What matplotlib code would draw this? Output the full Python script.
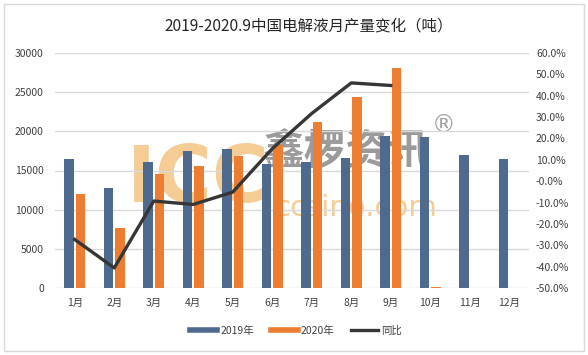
import numpy as np
import matplotlib
matplotlib.use("Agg")
import matplotlib.pyplot as plt
from matplotlib.lines import Line2D
from matplotlib.ticker import FuncFormatter
from matplotlib.patches import Rectangle
from matplotlib import font_manager

plt.rcParams['font.family'] = ['Noto Sans CJK SC', 'DejaVu Sans']

# ---------------- data ----------------
months = ['1月', '2月', '3月', '4月', '5月', '6月', '7月', '8月', '9月', '10月', '11月', '12月']
y2019 = [16500, 12800, 16100, 17500, 17700, 15800, 16100, 16600, 19400, 19300, 17000, 16500]
y2020 = [12000, 7600, 14600, 15600, 16800, 18200, 21200, 24400, 28100, 100, 0, 0]
yoy = [-27.3, -40.6, -9.3, -10.9, -5.1, 15.2, 31.7, 46.0, 44.8]   # 同比, %

c19 = '#4F6A8F'
c20 = '#ED7D31'
cline = '#363636'
ctext = '#404040'

fig = plt.figure(figsize=(5.88, 3.55), dpi=100)
ax = fig.add_axes([55/588, 1-288/355, 474/588, 235/355])
ax.set_facecolor('none')
ax2 = ax.twinx()

x = np.arange(len(months))
w = 0.24
ax.bar(x - 0.15, y2019, w, color=c19, zorder=3)
ax.bar(x + 0.15, y2020, w, color=c20, zorder=3)
ax2.plot(x[:len(yoy)], np.array(yoy) / 100, color=cline, lw=2.4, zorder=4)

ax.set_xlim(-0.5, 11.5)
ax.set_ylim(0, 30000)
ax.set_yticks(np.arange(0, 30001, 5000))
ax2.set_ylim(-0.5, 0.6)
ax2.set_yticks(np.arange(-0.5, 0.61, 0.1))
ax2.yaxis.set_major_formatter(FuncFormatter(lambda v, p: f'{v*100:.1f}%'))

ax.set_xticks(x)
ax.set_xticklabels(months)
ax.grid(axis='y', color='#D9D9D9', lw=1, zorder=0)
for a in (ax, ax2):
    for s in a.spines.values():
        s.set_visible(False)
    a.tick_params(length=0, labelsize=7.5, colors=ctext)
ax.tick_params(axis='x', pad=7)
ax.tick_params(axis='y', pad=8)
ax2.tick_params(axis='y', pad=5)

fig.text(309/588, 1-26/355, '2019-2020.9中国电解液月产量变化（吨）', ha='center', va='center',
         fontsize=11.2, color='#262626')

# watermark (drawn behind the plot)
names = {f.name for f in font_manager.fontManager.ttflist}
wm_font = 'Liberation Sans Narrow' if 'Liberation Sans Narrow' in names else 'DejaVu Sans'
fig.text(198/588, 1-180/355, 'ICC', ha='center', va='center', fontsize=56, fontweight='bold',
         family=wm_font, color='#F3C482', alpha=0.85, zorder=-1)
fig.text(346/588, 1-153/355, '鑫椤资讯', ha='center', va='center', fontsize=30, fontweight='bold',
         color='#8A8A8A', alpha=0.85, zorder=-1)
fig.text(444/588, 1-126/355, '®', ha='center', va='center', fontsize=17,
         family='DejaVu Sans', color='#8A8A8A', alpha=0.85, zorder=-1)
fig.text(356/588, 1-208/355, 'ccsino.com', ha='center', va='center', fontsize=21,
         family='DejaVu Sans', color='#F3C482', alpha=0.85, zorder=-1)

handles = [Line2D([], [], color=c19, lw=4), Line2D([], [], color=c20, lw=4),
           Line2D([], [], color=cline, lw=2.4)]
fig.legend(handles, ['2019年', '2020年', '同比'], loc='center', bbox_to_anchor=(296/588, 1-331/355),
           ncol=3, frameon=False, fontsize=7.5, handlelength=2.6, handletextpad=0.3,
           columnspacing=1.6, labelcolor=ctext)

fig.patches.append(Rectangle((4/588, 4/355), 580/588, 347/355, transform=fig.transFigure,
                             fill=False, edgecolor='#D9D9D9', lw=1))

fig.savefig('out.png', dpi=100)
